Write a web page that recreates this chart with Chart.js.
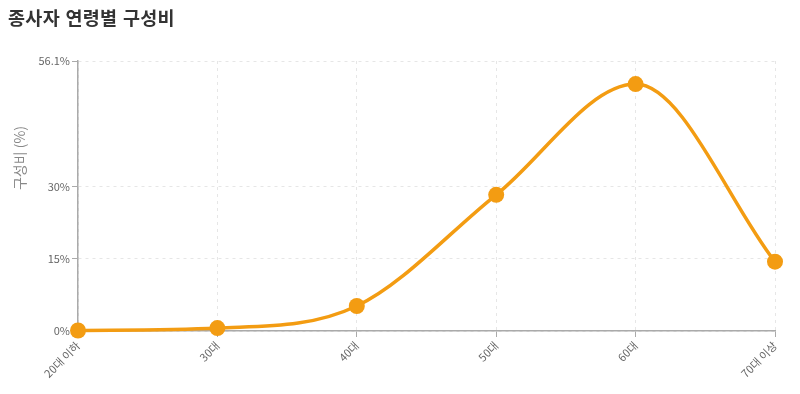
<!DOCTYPE html>
<html lang="ko">
<head>
    <meta charset="UTF-8">
    <title>종사자 연령별 구성비</title>
    <script src="https://cdn.jsdelivr.net/npm/chart.js"></script>
    <style>
        body { margin: 0; background: #fff; }
        .wrap { position: relative; width: 800px; height: 394px; }
        .wrap h3 {
            position: absolute; left: 8px; top: 4px; margin: 0;
            font: bold 18.5px 'Noto Sans CJK KR', 'Noto Sans', sans-serif;
            color: #333; letter-spacing: 0.3px;
        }
        canvas { position: absolute; left: 0; top: 0; }
    </style>
</head>
<body>
    <div class="wrap">
        <canvas id="chart" width="800" height="394"></canvas>
        <h3>종사자 연령별 구성비</h3>
    </div>

    <script>
        // data
        const ageGroups = ['20대 이하', '30대', '40대', '50대', '60대', '70대 이상'];
        const shares = [0.1, 0.6, 5.2, 28.3, 51.3, 14.4];
        const yTickValues = [0, 15, 30, 56.1];
        const yTitle = '구성비 (%)';

        const FONT = "'Noto Sans CJK KR', 'Noto Sans', sans-serif";
        const ORANGE = '#f39c12';

        // y axis title sits a bit above the middle of the plot in the original
        const yTitlePlugin = {
            id: 'yTitle',
            afterDraw(chart) {
                const c = chart.ctx;
                c.save();
                c.translate(20, 158);
                c.rotate(-Math.PI / 2);
                c.fillStyle = '#888';
                c.font = '14px ' + FONT;
                c.textAlign = 'center';
                c.textBaseline = 'middle';
                c.fillText(yTitle, 0, 0);
                c.restore();
            }
        };

        const ctx = document.getElementById('chart').getContext('2d');
        new Chart(ctx, {
            type: 'line',
            data: {
                labels: ageGroups,
                datasets: [{
                    label: '구성비',
                    data: shares,
                    borderColor: ORANGE,
                    backgroundColor: ORANGE,
                    borderWidth: 3.5,
                    cubicInterpolationMode: 'monotone',
                    pointRadius: 8,
                    pointHoverRadius: 8,
                    pointBorderWidth: 0,
                    clip: false
                }]
            },
            options: {
                responsive: false,
                animation: false,
                layout: { padding: { left: 0, right: 25, top: 61, bottom: 0 } },
                plugins: {
                    legend: { display: false },
                    tooltip: { enabled: false },
                    title: { display: false }
                },
                scales: {
                    x: {
                        offset: false,
                        afterFit: s => { s.height = 63; },
                        grid: { color: '#e6e6e6', tickColor: '#aaa', tickLength: 6 },
                        border: { color: '#aaa', width: 1.5, dash: [3, 4] },
                        ticks: {
                            color: '#666',
                            font: { family: FONT, size: 11 },
                            minRotation: 45,
                            maxRotation: 45,
                            padding: 2
                        }
                    },
                    y: {
                        min: 0,
                        max: 56.1,
                        afterFit: s => { s.width = 78; },
                        afterBuildTicks: s => { s.ticks = yTickValues.map(v => ({ value: v })); },
                        grid: { color: '#e6e6e6', tickColor: '#aaa', tickLength: 6 },
                        border: { color: '#aaa', width: 1.5, dash: [3, 4] },
                        ticks: {
                            color: '#666',
                            font: { family: FONT, size: 11 },
                            padding: 2,
                            callback: v => v + '%'
                        }
                    }
                }
            },
            plugins: [yTitlePlugin]
        });
    </script>
</body>
</html>
